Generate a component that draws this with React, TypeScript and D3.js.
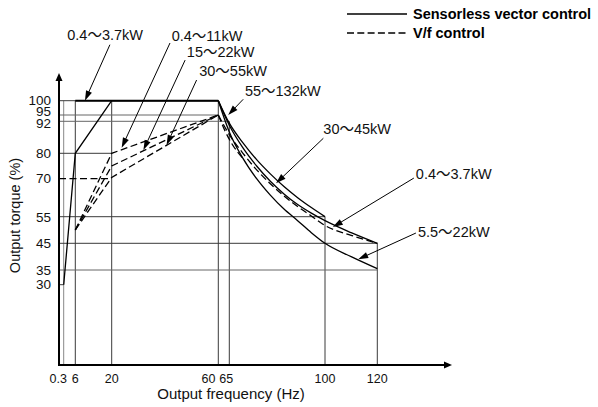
import React from 'react';
import * as d3 from 'd3';

// ---------- data ----------
const FREQ_TICKS = [0.3, 6, 20, 60, 65, 100, 120];
const FREQ_GRID_TOP = [100, 100, 100, 100, 92, 55, 45]; // torque where each vertical guide ends
const TORQUE_TICKS = [100, 95, 92, 80, 70, 55, 45, 35, 30];
const TORQUE_GRID_END: (number | null)[] = [60, 60, 65, 20, null, 100, 120, 120, 0.3]; // freq where each horizontal guide ends

// Sensorless vector control (solid)
const vecLowF = [0.3, 6, 20, 60];
const vecLowT = [30, 80, 100, 100];
const vec37F = [6, 60];
const vec37T = [100, 100];
const vec3045F = [60, 65, 70, 75, 80, 85, 90, 95, 100];
const vec3045T = [100, 91.3, 83.9, 77.5, 71.9, 66.9, 62.5, 58.6, 55];
const vecMidF = [60, 65, 70, 75, 80, 85, 90, 95, 100, 110, 120];
const vecMidT = [100, 90.5, 82, 75, 69, 64, 59.8, 56.4, 53.5, 49, 45];
const vec522F = [60, 65, 70, 75, 80, 85, 90, 95, 100, 110, 120];
const vec522T = [100, 88, 78, 70, 63.5, 58, 53.5, 49, 45, 40, 35.5];

// V/f control (dashed)
const vf11F = [6, 20, 60];
const vf11T = [50, 80, 95];
const vf22F = [6, 20, 60];
const vf22T = [50, 75, 95];
const vf55F = [6, 20, 60];
const vf55T = [50, 70.5, 95];
const vf132LowF = [0, 20];
const vf132LowT = [70, 70];
const vf132HighF = [60, 63, 66, 70];
const vf132HighT = [95, 88.5, 83.5, 78];
const vf37F = [60, 65, 70, 75, 80, 85, 90, 95, 100, 110, 120];
const vf37T = [95, 87, 80, 73.5, 68, 63.2, 59, 55.3, 51.7, 48, 45];

// annotations: label, tip (freq, torque), text offset and arrow-start offset from tip (px)
const ANN_LABELS = ['0.4～3.7kW', '0.4～11kW', '15～22kW', '30～55kW', '55～132kW', '30～45kW', '0.4～3.7kW', '5.5～22kW'];
const ANN_TIP_F = [9.7, 23.75, 31.9, 40.6, 64.5, 82.1, 103, 112.7];
const ANN_TIP_T = [100, 82.1, 81.2, 83.1, 95, 68.2, 51.1, 39];
const ANN_TEXT_DX = [-17.7, 50, 43.4, 32.6, 16.7, 47.3, 83, 59.7];
const ANN_TEXT_DY = [-61.2, -107.2, -93.3, -69, -19.5, -49.3, -48, -22.3];
const ANN_START_DX = [25, 48.3, 41.7, 30, 15, 47.3, 81, 57.7];
const ANN_START_DY = [-56, -104.7, -90, -65, -15.7, -45, -49, -26.3];

const LEGEND = ['Sensorless vector control', 'V/f control'];

// ---------- layout ----------
const W = 598;
const H = 407;
const FONT = '"Liberation Sans", Arial, Helvetica, sans-serif';

const x = d3
  .scaleLinear()
  .domain([0, 0.3, 6, 20, 60, 65, 100, 120])
  .range([59, 63.7, 75.3, 111.7, 218.3, 229.3, 325, 377.3]);
const y = d3
  .scaleLinear()
  .domain([0, 30, 35, 45, 55, 70, 80, 92, 95, 100])
  .range([365, 284.7, 270, 243.3, 216.7, 178.7, 153.3, 121.3, 115, 100.7]);

const zip = (fs: number[], ts: number[]) => fs.map((f, i) => [f, ts[i]] as [number, number]);
const lineStraight = d3.line<[number, number]>().x((d) => x(d[0])).y((d) => y(d[1]));
const lineCurve = d3
  .line<[number, number]>()
  .x((d) => x(d[0]))
  .y((d) => y(d[1]))
  .curve(d3.curveMonotoneX);

function Arrow({ x1, y1, x2, y2, len = 10, half = 3.2 }: any) {
  const dx = x2 - x1;
  const dy = y2 - y1;
  const L = Math.sqrt(dx * dx + dy * dy);
  const ux = dx / L;
  const uy = dy / L;
  const bx = x2 - ux * len;
  const by = y2 - uy * len;
  const px = -uy;
  const py = ux;
  return (
    <g>
      <line x1={x1} y1={y1} x2={bx + ux * 1} y2={by + uy * 1} stroke="#000" strokeWidth={1} />
      <polygon
        points={`${x2},${y2} ${bx + px * half},${by + py * half} ${bx - px * half},${by - py * half}`}
        fill="#000"
      />
    </g>
  );
}

// render the wave dash with a Japanese font so it is wide like the original
function RangeLabel({ text }: { text: string }) {
  const parts = text.split('～');
  return (
    <>
      {parts[0]}
      <tspan fontFamily='"Noto Sans CJK JP", "Noto Sans CJK SC", sans-serif'>～</tspan>
      {parts[1]}
    </>
  );
}

const xLabelAnchor = (f: number) => (f === 60 ? 'end' : f === 65 ? 'start' : 'middle');
const xLabelShift = (f: number) => (f === 0.3 ? -5.5 : f === 60 ? -2.8 : f === 65 ? -10 : 0);
const yLabelShift = (t: number) => (t === 95 ? -3.5 : t === 92 ? 2.5 : t === 55 || t === 45 ? 0.5 : 0);

export default function App() {
  const x0 = x(0);
  const y0 = y(0);
  const solid = { fill: 'none', stroke: '#000', strokeWidth: 1.3 };
  const dashed = { fill: 'none', stroke: '#000', strokeWidth: 1.3, strokeDasharray: '7,3.5' };
  const grid = { stroke: '#3a3a3a', strokeWidth: 1 };

  return (
    <svg
      width={W}
      height={H}
      style={{ position: 'absolute', left: 0, top: 0, background: '#fff' }}
      fontFamily={FONT}
    >
      <rect width={W} height={H} fill="#fff" />

      {/* vertical guides */}
      {FREQ_TICKS.map((f, i) => (
        <line
          key={'vg' + i}
          x1={x(f)}
          x2={x(f)}
          y1={y0}
          y2={y(FREQ_GRID_TOP[i])}
          {...grid}
          stroke={f === 0.3 ? '#888' : grid.stroke}
        />
      ))}
      {/* horizontal guides */}
      {TORQUE_TICKS.map((t, i) =>
        TORQUE_GRID_END[i] === null ? null : (
          <line
            key={'hg' + i}
            x1={x0}
            x2={x(TORQUE_GRID_END[i] as number)}
            y1={y(t)}
            y2={y(t)}
            {...grid}
            stroke={t === 95 || t === 92 || t === 35 ? '#666' : grid.stroke}
          />
        )
      )}

      {/* vector control curves */}
      <path d={lineStraight(zip(vecLowF, vecLowT)) || ''} {...solid} />
      <path d={lineStraight(zip(vec37F, vec37T)) || ''} {...solid} strokeWidth={2} />
      <path d={lineCurve(zip(vec3045F, vec3045T)) || ''} {...solid} />
      <path d={lineCurve(zip(vecMidF, vecMidT)) || ''} {...solid} />
      <path d={lineCurve(zip(vec522F, vec522T)) || ''} {...solid} />

      {/* V/f curves */}
      <path d={lineStraight(zip(vf11F, vf11T)) || ''} {...dashed} />
      <path d={lineStraight(zip(vf22F, vf22T)) || ''} {...dashed} />
      <path d={lineStraight(zip(vf55F, vf55T)) || ''} {...dashed} />
      <path d={lineStraight(zip(vf132LowF, vf132LowT)) || ''} {...dashed} />
      <path d={lineCurve(zip(vf132HighF, vf132HighT)) || ''} {...dashed} />
      <path d={lineCurve(zip(vf37F, vf37T)) || ''} {...dashed} />

      {/* axes */}
      <line x1={x0} x2={x0} y1={y0 + 1} y2={80} stroke="#000" strokeWidth={2} />
      <polygon points={`${x0},73 ${x0 - 3.5},81 ${x0 + 3.5},81`} fill="#000" />
      <line x1={x0 - 1} x2={445} y1={y0} y2={y0} stroke="#000" strokeWidth={2} />
      <polygon points={`452,${y0} 444,${y0 - 3.5} 444,${y0 + 3.5}`} fill="#000" />

      {/* y tick labels */}
      {TORQUE_TICKS.map((t) => (
        <text
          key={'yl' + t}
          x={51}
          y={y(t) + yLabelShift(t)}
          textAnchor="end"
          dominantBaseline="central"
          fontSize={13.5}
          fill="#111"
        >
          {t}
        </text>
      ))}
      {/* x tick labels */}
      {FREQ_TICKS.map((f) => (
        <text
          key={'xl' + f}
          x={x(f) + xLabelShift(f)}
          y={383}
          textAnchor={xLabelAnchor(f)}
          fontSize={12.5}
          fill="#111"
        >
          {f}
        </text>
      ))}

      {/* axis titles */}
      <text x={231} y={398.5} textAnchor="middle" fontSize={15} fill="#111">
        Output frequency (Hz)
      </text>
      <text
        transform={`translate(20,${(158 + 273) / 2}) rotate(-90)`}
        textAnchor="middle"
        fontSize={14.5}
        fill="#111"
      >
        Output torque (%)
      </text>

      {/* annotations */}
      {ANN_LABELS.map((lab, i) => {
        const tx = x(ANN_TIP_F[i]);
        const ty = y(ANN_TIP_T[i]);
        return (
          <g key={'ann' + i}>
            <Arrow x1={tx + ANN_START_DX[i]} y1={ty + ANN_START_DY[i]} x2={tx} y2={ty} />
            <text x={tx + ANN_TEXT_DX[i]} y={ty + ANN_TEXT_DY[i]} fontSize={14.5} fill="#111">
              <RangeLabel text={lab} />
            </text>
          </g>
        );
      })}

      {/* legend */}
      <line x1={347} x2={407} y1={14} y2={14} stroke="#000" strokeWidth={1.5} />
      <line x1={347} x2={407} y1={33} y2={33} stroke="#000" strokeWidth={1.5} strokeDasharray="7,3.3" />
      <text x={413} y={19} fontSize={14.5} fontWeight="bold" fill="#000">
        {LEGEND[0]}
      </text>
      <text x={413} y={38} fontSize={14.5} fontWeight="bold" fill="#000">
        {LEGEND[1]}
      </text>
    </svg>
  );
}
